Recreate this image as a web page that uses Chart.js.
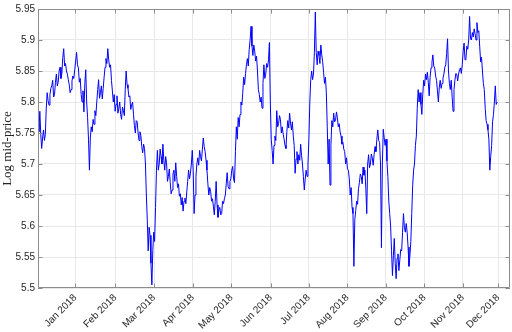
<!DOCTYPE html>
<html>
<head>
<meta charset="utf-8">
<script src="https://cdn.jsdelivr.net/npm/chart.js@4.4.1/dist/chart.umd.min.js"></script>
<style>
  html, body { margin: 0; padding: 0; background: #ffffff; }
  #wrap { width: 512px; height: 332px; }
</style>
</head>
<body>
<div id="wrap"><canvas id="priceChart" width="512" height="332"></canvas></div>
<script>
// Log mid-price, two readings per trading-day index
const sampleStep = 0.5;
const logMid = [
  5.765, 5.752, 5.785, 5.748, 5.725, 5.742, 5.755, 5.738, 5.748, 5.790, 5.815, 5.802, 5.795, 5.812, 5.822, 5.826, 5.835, 5.808, 5.812, 5.832,
  5.845, 5.826, 5.832, 5.850, 5.856, 5.838, 5.846, 5.872, 5.886, 5.858, 5.862, 5.850, 5.845, 5.836, 5.828, 5.815, 5.820, 5.834, 5.842, 5.838,
  5.852, 5.866, 5.880, 5.860, 5.855, 5.832, 5.838, 5.812, 5.800, 5.818, 5.784, 5.830, 5.852, 5.800, 5.775, 5.740, 5.690, 5.742, 5.760, 5.752,
  5.772, 5.764, 5.786, 5.778, 5.800, 5.820, 5.836, 5.806, 5.815, 5.826, 5.805, 5.822, 5.840, 5.856, 5.870, 5.862, 5.886, 5.868, 5.856, 5.860,
  5.835, 5.818, 5.800, 5.812, 5.785, 5.796, 5.810, 5.782, 5.790, 5.800, 5.780, 5.772, 5.792, 5.786, 5.778, 5.820, 5.850, 5.828, 5.822, 5.808,
  5.810, 5.788, 5.795, 5.800, 5.780, 5.762, 5.750, 5.770, 5.768, 5.750, 5.738, 5.752, 5.746, 5.728, 5.718, 5.732, 5.725, 5.700, 5.650, 5.610,
  5.560, 5.598, 5.585, 5.540, 5.505, 5.560, 5.590, 5.575, 5.630, 5.690, 5.722, 5.690, 5.700, 5.724, 5.712, 5.700, 5.732, 5.706, 5.690, 5.712,
  5.702, 5.672, 5.680, 5.692, 5.670, 5.652, 5.658, 5.684, 5.690, 5.672, 5.702, 5.680, 5.662, 5.668, 5.648, 5.652, 5.634, 5.646, 5.624, 5.640,
  5.645, 5.636, 5.655, 5.672, 5.690, 5.676, 5.685, 5.700, 5.722, 5.690, 5.620, 5.650, 5.680, 5.700, 5.710, 5.698, 5.722, 5.712, 5.705, 5.724,
  5.742, 5.728, 5.720, 5.706, 5.690, 5.668, 5.650, 5.662, 5.656, 5.640, 5.644, 5.632, 5.618, 5.640, 5.672, 5.634, 5.614, 5.626, 5.630, 5.618,
  5.620, 5.640, 5.636, 5.644, 5.650, 5.668, 5.686, 5.664, 5.660, 5.672, 5.676, 5.690, 5.696, 5.676, 5.670, 5.720, 5.760, 5.740, 5.775, 5.760,
  5.780, 5.800, 5.795, 5.815, 5.840, 5.828, 5.846, 5.860, 5.870, 5.858, 5.885, 5.900, 5.922, 5.890, 5.875, 5.892, 5.882, 5.866, 5.874, 5.850,
  5.820, 5.812, 5.800, 5.808, 5.790, 5.830, 5.860, 5.838, 5.845, 5.862, 5.856, 5.868, 5.896, 5.800, 5.740, 5.722, 5.700, 5.730, 5.745, 5.738,
  5.786, 5.760, 5.765, 5.778, 5.772, 5.750, 5.760, 5.748, 5.740, 5.730, 5.725, 5.752, 5.770, 5.758, 5.782, 5.766, 5.755, 5.768, 5.745, 5.730,
  5.685, 5.708, 5.720, 5.700, 5.715, 5.706, 5.732, 5.714, 5.700, 5.680, 5.658, 5.676, 5.690, 5.680, 5.700, 5.740, 5.800, 5.836, 5.850, 5.836,
  5.845, 5.880, 5.945, 5.880, 5.860, 5.882, 5.875, 5.862, 5.892, 5.876, 5.865, 5.848, 5.830, 5.840, 5.815, 5.760, 5.700, 5.740, 5.666, 5.730,
  5.770, 5.760, 5.782, 5.768, 5.770, 5.784, 5.775, 5.760, 5.765, 5.752, 5.745, 5.732, 5.735, 5.724, 5.720, 5.700, 5.710, 5.692, 5.690, 5.676,
  5.650, 5.662, 5.630, 5.620, 5.535, 5.610, 5.625, 5.640, 5.635, 5.660, 5.670, 5.684, 5.680, 5.668, 5.695, 5.682, 5.690, 5.660, 5.620, 5.700,
  5.715, 5.694, 5.700, 5.716, 5.710, 5.698, 5.715, 5.728, 5.720, 5.740, 5.755, 5.738, 5.735, 5.700, 5.565, 5.700, 5.756, 5.742, 5.730, 5.740,
  5.705, 5.680, 5.640, 5.620, 5.600, 5.560, 5.520, 5.552, 5.580, 5.540, 5.515, 5.548, 5.555, 5.528, 5.545, 5.562, 5.560, 5.590, 5.620, 5.598,
  5.590, 5.604, 5.590, 5.566, 5.535, 5.552, 5.575, 5.620, 5.665, 5.690, 5.700, 5.730, 5.745, 5.790, 5.820, 5.800, 5.815, 5.796, 5.780, 5.812,
  5.835, 5.826, 5.845, 5.836, 5.848, 5.832, 5.810, 5.840, 5.855, 5.864, 5.876, 5.858, 5.855, 5.842, 5.835, 5.818, 5.800, 5.824, 5.835, 5.822,
  5.830, 5.838, 5.845, 5.856, 5.860, 5.878, 5.902, 5.850, 5.830, 5.820, 5.835, 5.808, 5.785, 5.820, 5.835, 5.846, 5.845, 5.834, 5.845, 5.852,
  5.855, 5.846, 5.860, 5.882, 5.895, 5.868, 5.870, 5.890, 5.885, 5.900, 5.938, 5.902, 5.900, 5.912, 5.905, 5.918, 5.910, 5.900, 5.928, 5.912,
  5.915, 5.890, 5.865, 5.872, 5.850, 5.830, 5.820, 5.790, 5.770, 5.764, 5.755, 5.740, 5.690, 5.712, 5.730, 5.768, 5.780, 5.800, 5.826, 5.796,
  5.800
];

// month ticks sit at the first observation of each month
const monthPos = [20.3, 42, 63.2, 84.3, 105.3, 126.7, 147.4, 168.5, 189.3, 210.4, 231.3, 250.6];
const monthLabels = ['Jan 2018', 'Feb 2018', 'Mar 2018', 'Apr 2018', 'May 2018', 'Jun 2018',
                     'Jul 2018', 'Aug 2018', 'Sep 2018', 'Oct 2018', 'Nov 2018', 'Dec 2018'];
const yTickVals = [5.5, 5.55, 5.6, 5.65, 5.7, 5.75, 5.8, 5.85, 5.9, 5.95];
const yTickLabels = ['5.5', '5.55', '5.6', '5.65', '5.7', '5.75', '5.8', '5.85', '5.9', '5.95'];

const xMax = 257;
const axisColor = '#8c8c8c';
const textColor = '#262626';

// box around the axes plus MATLAB-style inward ticks on all four sides
const boxPlugin = {
  id: 'boxTicks',
  afterDraw(chart) {
    const ctx = chart.ctx;
    const a = chart.chartArea;
    const xs = chart.scales.x;
    const ys = chart.scales.y;
    const len = 4.5;
    ctx.save();
    ctx.strokeStyle = axisColor;
    ctx.lineWidth = 1;
    ctx.beginPath();
    ctx.rect(a.left + 0.5, a.top + 0.5, a.right - a.left - 1, a.bottom - a.top - 1);
    monthPos.forEach(v => {
      const px = Math.round(xs.getPixelForValue(v)) + 0.5;
      ctx.moveTo(px, a.bottom);
      ctx.lineTo(px, a.bottom - len);
      ctx.moveTo(px, a.top);
      ctx.lineTo(px, a.top + len);
    });
    yTickVals.forEach(v => {
      const py = Math.round(ys.getPixelForValue(v)) + 0.5;
      ctx.moveTo(a.left, py);
      ctx.lineTo(a.left + len, py);
      ctx.moveTo(a.right, py);
      ctx.lineTo(a.right - len, py);
    });
    ctx.stroke();
    ctx.restore();
  }
};

const canvas = document.getElementById('priceChart');

new Chart(canvas, {
  type: 'line',
  data: {
    datasets: [{
      data: logMid.map((v, i) => ({ x: i * sampleStep, y: v })),
      borderColor: '#0000ff',
      borderWidth: 1,
      pointRadius: 0,
      tension: 0,
      fill: false
    }]
  },
  options: {
    responsive: false,
    animation: false,
    devicePixelRatio: 1,
    layout: { padding: { top: 4, right: 2, left: 0, bottom: 0 } },
    plugins: {
      legend: { display: false },
      tooltip: { enabled: false }
    },
    scales: {
      x: {
        type: 'linear',
        min: 0,
        max: xMax,
        afterFit(scale) { scale.height = 44; },
        afterBuildTicks(scale) {
          scale.ticks = monthPos.map(v => ({ value: v }));
        },
        grid: { color: '#e8e8e8', drawTicks: false },
        border: { display: false },
        ticks: {
          autoSkip: false,
          maxRotation: 45,
          minRotation: 45,
          padding: 4,
          color: textColor,
          font: { family: 'Liberation Sans', size: 10 },
          callback: (value, index) => monthLabels[index]
        }
      },
      y: {
        min: 5.5,
        max: 5.95,
        afterFit(scale) { scale.width = 38; },
        afterBuildTicks(scale) {
          scale.ticks = yTickVals.map(v => ({ value: v }));
        },
        grid: { color: '#e8e8e8', drawTicks: false },
        border: { display: false },
        ticks: {
          padding: 3,
          color: textColor,
          font: { family: 'Liberation Sans', size: 10 },
          callback: (value, index) => yTickLabels[index]
        },
        title: {
          display: true,
          text: 'Log mid-price',
          color: textColor,
          padding: { top: 0, bottom: 0 },
          font: { family: 'Liberation Serif', size: 13 }
        }
      }
    }
  },
  plugins: [boxPlugin]
});
</script>
</body>
</html>
